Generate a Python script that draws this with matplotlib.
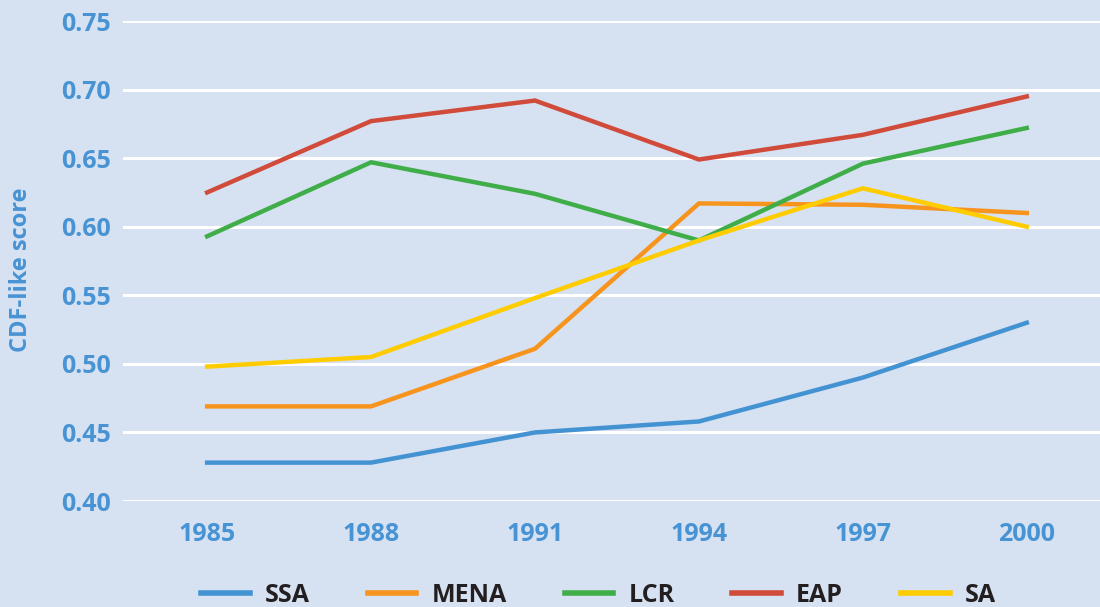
import matplotlib.pyplot as plt

years = [1985, 1988, 1991, 1994, 1997, 2000]
ssa = [0.428, 0.428, 0.450, 0.458, 0.490, 0.530]
mena = [0.469, 0.469, 0.511, 0.617, 0.616, 0.610]
lcr = [0.593, 0.647, 0.624, 0.590, 0.646, 0.672]
eap = [0.625, 0.677, 0.692, 0.649, 0.667, 0.695]
sa = [0.498, 0.505, 0.548, 0.590, 0.628, 0.600]

series = [("SSA", ssa, "#4393D3"), ("MENA", mena, "#F7941D"),
          ("LCR", lcr, "#3FAE49"), ("EAP", eap, "#D14B3B"),
          ("SA", sa, "#FFCC00")]

bg = "#D6E1F2"
blue = "#4793D3"
plt.rcParams['font.family'] = ['Open Sans', 'DejaVu Sans']

fig = plt.figure(figsize=(11, 6.07), dpi=100, facecolor=bg)
ax = fig.add_axes([0.1118, 0.1746, 0.8882, 0.7908], facecolor=bg)

for name, vals, c in series:
    ax.plot(years, vals, color=c, lw=3.2, label=name, solid_joinstyle='miter')

ax.set_xlim(1983.46, 2001.34)
ax.set_ylim(0.40, 0.75)
ax.set_xticks(years)
ax.set_yticks([0.40, 0.45, 0.50, 0.55, 0.60, 0.65, 0.70, 0.75])
ax.set_yticklabels(["0.40", "0.45", "0.50", "0.55", "0.60", "0.65", "0.70", "0.75"])
ax.grid(axis='y', color='white', lw=2.2)
ax.set_axisbelow(True)
for s in ax.spines.values():
    s.set_visible(False)
ax.tick_params(length=0, labelsize=18, labelcolor=blue, pad=9)
ax.tick_params(axis='x', pad=15)
for t in ax.get_xticklabels() + ax.get_yticklabels():
    t.set_fontweight('bold')

fig.text(0.019, 0.555, "CDF-like score", rotation=90, ha='center', va='center',
         color=blue, fontsize=17, fontweight='bold')

leg = fig.legend(loc='center', bbox_to_anchor=(0.544, 0.019), ncol=5,
                 frameon=False, handlelength=1.95, columnspacing=2.32,
                 handletextpad=0.6, prop={'weight': 'bold', 'size': 18})
for h in leg.get_lines():
    h.set_linewidth(4)
for t in leg.get_texts():
    t.set_color('#231F20')

fig.savefig("out.png", dpi=100, facecolor=bg)
